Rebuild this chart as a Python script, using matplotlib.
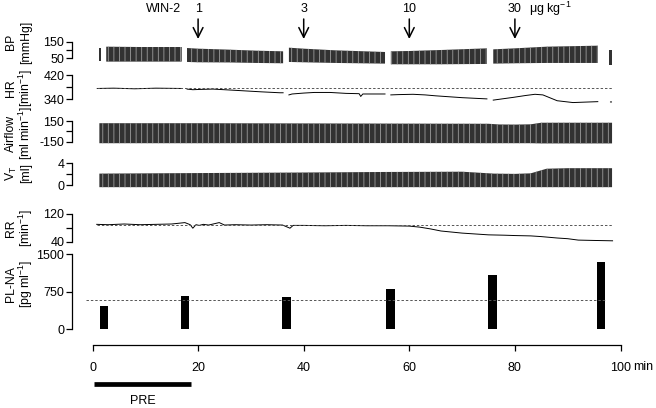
import numpy as np
import matplotlib
matplotlib.use('Agg')
import matplotlib.pyplot as plt

plt.rcParams['font.family'] = ['Liberation Sans', 'DejaVu Sans']
plt.rcParams['mathtext.fontset'] = 'custom'
plt.rcParams['mathtext.rm'] = 'Liberation Sans'
plt.rcParams['mathtext.it'] = 'Liberation Sans:italic'
plt.rcParams['mathtext.bf'] = 'Liberation Sans:bold'
plt.rcParams['hatch.linewidth'] = 0.6

nan = np.nan

# ---------------- data ----------------
dose_times = [20, 40, 60, 80]
dose_labels = ['1', '3', '10', '30']
x_ticks = [0, 20, 40, 60, 80, 100]
x_ticklabels = ['0', '20', '40', '60', '80', '100']
pre_period = [0.3, 18.6]

# Blood pressure envelope (mmHg), gaps = blood sampling
bp_time  = [1.3, 1.7, nan, 2.6, 9, 16.9, nan, 17.9, 20, 26, 31, 36.1, nan,
            37.2, 40, 46, 55.4, nan, 56.5, 60, 66, 74.7, nan, 75.9, 80, 86, 95.7, nan, 97.9, 98.4]
bp_upper = [112, 112, nan, 120, 118, 118, nan, 112, 108, 102, 96, 92, nan,
            114, 108, 98, 88, nan, 92, 94, 100, 110, nan, 104, 110, 120, 126, nan, 100, 100]
bp_lower = [36, 36, nan, 30, 30, 30, nan, 28, 26, 25, 22, 20, nan,
            28, 26, 22, 18, nan, 14, 14, 14, 16, nan, 18, 20, 22, 22, nan, 10, 10]

# Heart rate (min-1)
hr_time = [0.9, 4, 8, 12, 16.9, nan,
           17.9, 19, 20.5, 22.8, 26, 29, 32, 35.5, 36.1, nan,
           37.2, 37.8, 40, 42, 45, 48, 50.5, 50.8, 51.2, 54.5, 55.4, nan,
           56.5, 58, 60.7, 63, 65, 70, 74.7, nan,
           75.9, 78, 79.7, 82, 83.8, 85.3, 88, 91, 95.7, nan,
           98.1, 98.3]
hr_val = [376, 377, 375, 377, 376, nan,
          374, 372, 373, 374, 371, 368, 365, 362, 362, nan,
          355, 358, 361, 363, 363, 360, 359, 350, 358, 358, 358, nan,
          355, 356, 357, 355, 352, 346, 342, nan,
          338, 343, 347, 353, 357, 355, 336, 330, 333, nan,
          332, 332]
hr_baseline = 376

# Airflow envelope (ml min-1)
air_time  = [1.3, 20, 40, 60, 75, 77, 80, 83, 85, 90, 98.4]
air_upper = [118, 118, 115, 112, 110, 100, 98, 102, 125, 125, 125]
air_lower = [-172, -172, -170, -170, -172, -172, -172, -172, -175, -175, -175]

# Tidal volume envelope (ml)
vt_time  = [1.3, 20, 40, 55, 70, 76, 80, 83, 86, 90, 98.4]
vt_upper = [2.1, 2.2, 2.3, 2.4, 2.45, 2.1, 2.05, 2.15, 3.0, 3.1, 3.1]
vt_lower = [-0.4, -0.4, -0.4, -0.4, -0.4, -0.4, -0.4, -0.4, -0.4, -0.4, -0.4]

# Respiratory rate (min-1)
rr_time = [0.8, 3, 6, 9, 12, 15, 17.5, 18.5, 19, 19.6, 20.2, 21, 22, 24, 25, 27, 30,
           33, 36, 37.4, 38, 40, 44, 48, 52, 56, 60, 62, 64, 66, 68, 70, 72, 75,
           78, 80, 83, 85, 88, 90, 92, 95, 98.5]
rr_val = [89, 88, 90, 88, 89, 90, 94, 88, 78, 88, 86, 89, 87, 94, 87, 88, 87,
          88, 87, 78, 86, 86, 85, 86, 85, 85, 84, 81, 76, 70, 67, 64, 62, 59,
          58, 57, 56, 54, 50, 48, 44, 43, 42]
rr_baseline = 87

# Plasma noradrenaline (pg ml-1)
plna_time = [2.2, 17.5, 36.7, 56.4, 75.8, 96.3]
plna_val = [466, 672, 646, 806, 1086, 1352]
plna_baseline = 590

# ---------------- figure ----------------
W, H = 656, 408
fig = plt.figure(figsize=(W / 100, H / 100), dpi=100)
fig.patch.set_facecolor('white')


def t_of(px):
    return (px - 92.5) / 5.28


XL = (t_of(72), t_of(640))


def fx(px):
    return px / W


def fy(py):
    return 1 - py / H


def fmt(v):
    return str(int(v)) if float(v).is_integer() else str(v)


def panel(top, bot, v1, y1, v2, y2, mid_label=''):
    ax = fig.add_axes([fx(72), fy(bot), 568 / W, (bot - top) / H])
    s = (v2 - v1) / (y2 - y1)
    ax.set_ylim(v1 + (bot - y1) * s, v1 + (top - y1) * s)
    ax.set_xlim(*XL)
    ax.patch.set_visible(False)
    for sp in ['top', 'right', 'bottom']:
        ax.spines[sp].set_visible(False)
    lo, hi = min(v1, v2), max(v1, v2)
    ax.spines['left'].set_bounds(lo, hi)
    ax.spines['left'].set_linewidth(0.9)
    mid = (lo + hi) / 2
    ax.set_yticks([lo, mid, hi])
    ax.set_yticklabels([fmt(lo), mid_label, fmt(hi)])
    ax.tick_params(axis='y', direction='out', length=4, width=0.9, pad=1.5, labelsize=9)
    ax.tick_params(axis='x', bottom=False, labelbottom=False)
    return ax


band_kw = dict(facecolor='#323232', edgecolor='#9c9c9c', hatch='|||', linewidth=0)

# BP
ax_bp = panel(35, 68, 150, 41.7, 50, 58.3)
ax_bp.fill_between(bp_time, bp_lower, bp_upper, **band_kw)

# HR
ax_hr = panel(70, 108, 420, 75, 340, 99.5)
ax_hr.plot(hr_time, hr_val, color='black', lw=0.7)
ax_hr.plot([0.8, 98.6], [hr_baseline, hr_baseline], color='#555555', lw=0.7, dashes=(2.5, 2))

# Airflow
ax_air = panel(115, 148, 150, 121, -150, 141.7)
ax_air.fill_between(air_time, air_lower, air_upper, **band_kw)

# VT
ax_vt = panel(158, 192, 4, 163.3, 0, 185)
ax_vt.fill_between(vt_time, vt_lower, vt_upper, **band_kw)

# RR
ax_rr = panel(205, 246, 120, 213.5, 40, 241.5)
ax_rr.plot(rr_time, rr_val, color='black', lw=0.7)
ax_rr.plot([0.8, 98.6], [rr_baseline, rr_baseline], color='#555555', lw=0.7, dashes=(2.5, 2))

# PL-NA
ax_pl = panel(250, 340, 1500, 254.3, 0, 329.3, mid_label='750')
ax_pl.bar(plna_time, plna_val, width=1.65, color='black')
ax_pl.plot([-1.2, 97.3], [plna_baseline, plna_baseline], color='#555555', lw=0.7, dashes=(2.5, 2))

# time axis (own axes, line at y = 345 px)
ax_x = fig.add_axes([fx(72), fy(345), 568 / W, 4 / H])
ax_x.set_xlim(*XL)
ax_x.set_ylim(0, 1)
ax_x.patch.set_visible(False)
for sp in ['top', 'right', 'left']:
    ax_x.spines[sp].set_visible(False)
ax_x.spines['bottom'].set_bounds(0, 100)
ax_x.spines['bottom'].set_linewidth(0.9)
ax_x.set_yticks([])
ax_x.set_xticks(x_ticks)
ax_x.set_xticklabels(x_ticklabels)
ax_x.tick_params(axis='x', direction='out', length=4.5, width=0.9, pad=8, labelsize=9)

# overlay axes: x in minutes, y in pixels from top
ov = fig.add_axes([fx(72), 0, 568 / W, 1])
ov.set_xlim(*XL)
ov.set_ylim(H, 0)
ov.axis('off')

ov.text(t_of(163), 9, 'WIN-2', ha='center', va='center', fontsize=9)
for t, lab in zip(dose_times, dose_labels):
    ov.text(t, 9, lab, ha='center', va='center', fontsize=9)
    ov.annotate('', xy=(t, 39), xytext=(t, 19),
                arrowprops=dict(arrowstyle='->,head_length=0.7,head_width=0.35',
                                lw=1.1, color='black', shrinkA=0, shrinkB=0,
                                mutation_scale=10))
ov.text(dose_times[-1] + 14 / 5.28, 9, r'μg kg$^{-1}$', ha='left', va='center', fontsize=9)
ov.text(100 + 13 / 5.28, 367.5, 'min', ha='left', va='center', fontsize=9)

ov.plot(pre_period, [384, 384], color='black', lw=3.4, solid_capstyle='butt', clip_on=False)
ov.text(sum(pre_period) / 2, 401, 'PRE', ha='center', va='center', fontsize=9)

# y labels
ylabels = [
    ('BP', '[mmHg]', 42),
    ('HR', r'[min$^{-1}$]', 88),
    ('Airflow', r'[ml min$^{-1}$]', 133),
    (r'V$_\mathrm{T}$', '[ml]', 173),
    ('RR', r'[min$^{-1}$]', 228),
    ('PL-NA', r'[pg ml$^{-1}$]', 284),
]
for l1, l2, yc in ylabels:
    fig.text(fx(11), fy(yc), l1, rotation=90, ha='center', va='center', fontsize=8.8)
    fig.text(fx(26), fy(yc), l2, rotation=90, ha='center', va='center', fontsize=8.8)

fig.savefig('out.png', dpi=100, facecolor='white')
